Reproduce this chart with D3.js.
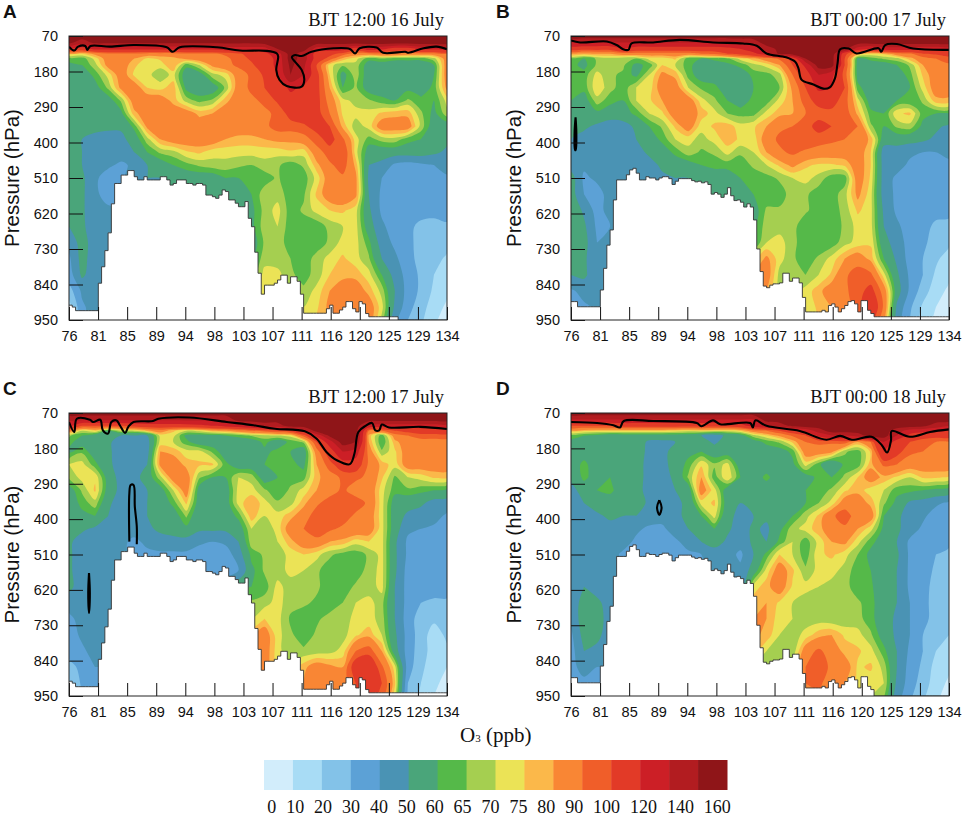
<!DOCTYPE html>
<html>
<head>
<meta charset="utf-8">
<script src="https://cdn.jsdelivr.net/npm/d3@7"></script>
<style>
  body { margin: 0; background: #fff; }
  svg { display: block; }
  .tick text { font-family: "Liberation Sans", Arial, sans-serif; font-size: 14.5px; fill: #111; }
  .serif { font-family: "Liberation Serif", "Times New Roman", serif; fill: #111; }
  .sans { font-family: "Liberation Sans", Arial, sans-serif; fill: #111; }
</style>
</head>
<body>
<script>
// legend
const levelLabels = [0, 10, 20, 30, 40, 50, 60, 65, 70, 75, 80, 90, 100, 120, 140, 160];
const levelColors = ["#d2edfb", "#a8dcf5", "#83c2e8", "#5ca1d6", "#4a93b4", "#4aa57a", "#55b949", "#a5cf50",
  "#ebe356", "#fbb84a", "#f98634", "#f05e29", "#e23a27", "#cc1f26", "#b21c20", "#8f1518"];

// axes
const xLabels = ["76", "81", "85", "89", "94", "98", "103", "107", "111", "116", "120", "125", "129", "134"];
const pTicks = [70, 180, 290, 400, 510, 620, 730, 840, 950];

// grid of the O3 values: one column every 2 degrees, one row per pressure level
const lons = d3.range(76, 135, 2);
const pLevels = [70, 90, 110, 125, 140, 160, 190, 230, 270, 310, 350, 390, 430, 470, 510, 560, 610, 660, 710, 760, 810, 860, 910, 950];

const o3A = [
[170,170,170,170,170,170,170,170,170,170,170,170,170,170,170,170,170,170,170,170,170,170,170,170,170,170,170,170,170,170],
[165,150,165,165,165,165,165,165,165,165,165,165,165,165,165,170,170,170,170,170,170,170,170,170,170,170,170,170,170,170],
[110,110,125,125,125,125,125,125,125,125,125,125,130,130,130,130,160,170,170,130,130,130,110,130,125,110,110,125,125,125],
[76,75,82,88,88,88,85,85,85,88,88,88,92,98,105,115,130,170,150,110,105,95,85,85,88,88,85,85,85,88],
[62,62,72,85,85,80,74,76,78,82,85,85,87,95,102,110,125,170,150,110,95,78,72,62,65,62,62,62,68,85],
[58,60,68,83,85,76,72,72,80,62,70,82,87,92,98,108,125,165,145,100,72,66,68,56,55,55,55,55,60,85],
[55,55,62,72,85,74,72,66,72,55,56,68,72,85,92,102,120,160,140,105,75,57,68,55,55,55,55,56,60,85],
[55,55,57,66,82,85,75,73,78,58,55,55,66,85,92,100,105,125,115,105,80,60,66,56,55,55,58,55,62,82],
[55,55,55,56,66,85,85,85,78,68,63,66,78,85,88,92,102,110,110,105,85,72,68,66,62,60,66,62,60,72],
[55,55,55,55,58,78,85,85,85,85,78,80,85,85,85,88,92,105,108,105,90,74,72,72,76,78,78,66,58,68],
[55,55,55,52,52,62,82,85,85,85,85,85,85,85,85,87,95,95,98,105,100,78,67,72,85,85,85,68,55,55],
[55,50,45,46,47,55,68,80,85,85,85,85,80,78,78,80,82,82,85,95,105,92,72,63,67,68,62,60,55,52],
[55,50,44,45,45,50,60,66,68,74,76,72,72,72,72,72,72,74,72,85,95,100,72,56,55,55,55,55,52,48],
[55,50,44,42,38,42,50,55,60,63,66,68,68,66,65,68,66,62,66,78,88,95,78,50,47,38,36,38,40,45],
[55,52,42,35,38,45,50,50,55,55,55,55,60,60,60,62,66,60,62,72,85,88,82,48,40,35,35,35,35,38],
[55,52,42,36,36,38,40,42,45,48,50,52,52,56,60,68,68,62,64,76,85,88,82,50,38,35,35,35,35,35],
[55,52,42,42,42,42,42,42,45,50,55,55,55,56,58,67,72,62,66,72,75,76,72,52,38,35,35,35,35,35],
[50,52,44,44,44,44,44,44,48,52,55,56,58,58,58,68,70,62,62,61,67,70,72,55,42,35,33,27,25,28],
[42,55,44,44,44,44,44,44,48,52,55,56,58,60,55,66,68,62,62,62,66,72,72,62,45,38,33,26,24,24],
[38,54,44,44,44,44,44,44,48,52,56,58,60,62,58,68,67,65,62,67,72,76,72,66,50,42,34,26,24,18],
[35,52,44,44,44,44,44,44,48,52,56,60,62,66,62,72,72,66,63,67,75,78,78,72,60,46,36,28,20,15],
[25,42,44,44,44,44,44,44,48,52,56,60,66,70,72,72,72,68,66,72,80,85,85,78,68,50,36,28,18,12],
[15,38,45,45,45,45,45,45,48,52,56,60,66,70,72,72,72,70,70,74,82,85,85,85,72,48,34,24,15,8],
[10,36,45,45,45,45,45,45,48,52,56,60,66,70,72,72,72,72,72,76,80,82,82,85,68,42,30,22,12,5]
];

const o3B = [
[170,170,170,170,170,170,170,170,170,170,170,170,170,170,170,170,170,170,170,170,170,170,170,170,170,170,170,170,170,170],
[140,140,140,140,140,140,140,140,140,140,140,140,140,145,150,170,170,170,170,170,170,170,170,170,170,170,170,170,170,170],
[105,105,105,105,120,110,110,110,110,110,110,110,115,120,130,150,165,170,170,170,170,165,130,120,130,130,130,125,125,125],
[80,78,80,80,85,85,85,85,85,85,90,92,100,105,115,130,165,170,175,175,175,105,80,74,76,85,88,100,102,105],
[62,60,66,68,66,65,72,72,76,62,60,62,64,72,78,85,92,105,160,170,170,100,58,62,66,68,78,85,90,95],
[62,58,66,70,66,58,62,75,70,62,56,55,58,62,68,72,80,100,125,170,170,100,56,55,55,60,66,80,85,88],
[60,62,72,66,64,58,70,82,78,63,56,55,55,55,62,63,68,90,110,140,125,95,57,55,55,55,63,76,85,85],
[60,62,74,67,62,70,72,85,85,70,64,62,55,55,60,62,65,82,100,125,120,100,62,55,55,55,60,72,85,85],
[60,56,68,62,60,70,74,80,85,85,72,66,60,56,62,62,72,80,95,105,105,95,72,56,55,60,60,66,78,78],
[55,52,58,56,56,62,70,74,85,85,78,72,65,63,63,72,78,80,90,95,97,97,78,62,60,74,76,62,60,60],
[55,52,48,44,46,52,60,66,76,85,72,76,78,72,74,80,88,90,95,105,100,95,90,66,60,66,68,58,52,48],
[50,46,45,44,45,50,55,62,70,72,68,72,78,74,72,85,92,98,98,95,92,90,88,78,55,55,54,52,48,45],
[50,46,46,44,44,46,52,55,62,68,64,66,72,66,70,80,88,92,88,85,85,85,85,75,45,45,42,40,40,42],
[45,42,45,43,42,44,46,52,54,56,60,62,62,62,66,70,76,82,76,74,74,76,85,75,45,44,38,36,36,38],
[55,38,42,42,45,45,46,48,50,50,52,55,56,60,62,63,66,70,72,68,62,62,85,74,45,38,35,33,33,35],
[55,40,36,44,44,44,44,46,46,48,50,50,50,55,60,61,62,68,66,62,62,68,82,72,45,38,35,35,35,35],
[58,48,36,44,44,44,44,46,46,48,50,50,50,50,56,66,66,67,66,62,62,67,76,72,48,38,35,35,35,35],
[56,52,38,40,40,40,40,44,46,48,50,52,54,56,58,68,68,67,61,62,62,66,72,72,50,42,35,35,27,25],
[55,54,40,40,40,40,40,44,46,48,50,52,54,58,60,70,72,67,61,61,62,68,72,74,54,45,36,33,24,22],
[55,52,42,42,42,42,42,44,46,48,52,56,60,66,72,82,72,66,62,66,72,80,85,78,60,48,36,30,22,15],
[50,52,44,44,44,44,44,44,46,50,56,62,70,76,80,85,68,65,65,70,76,88,95,92,72,52,38,30,18,12],
[38,44,44,44,44,44,44,44,46,50,56,62,70,76,80,80,68,68,72,78,85,88,95,105,85,55,38,25,14,8],
[32,38,42,42,42,42,42,44,46,50,56,62,66,68,70,70,70,70,72,76,80,85,95,115,88,48,32,18,10,6],
[28,36,42,42,42,42,42,44,46,50,56,62,66,68,70,70,72,72,74,75,78,85,95,105,82,45,30,15,8,5]
];

const o3C = [
[170,170,170,170,170,170,170,170,170,170,170,170,170,170,170,170,170,170,170,170,170,170,170,170,170,170,170,170,170,170],
[145,145,145,145,145,145,145,145,145,145,145,145,145,170,170,170,170,170,170,170,170,170,170,170,170,170,170,170,170,170],
[125,100,100,100,100,105,110,110,110,112,115,120,125,130,140,150,150,170,170,170,170,170,170,135,130,130,130,130,130,130],
[85,70,75,60,70,70,78,85,76,70,72,78,80,85,90,95,100,105,130,170,170,170,170,90,90,100,105,110,110,110],
[66,60,55,55,50,50,50,72,72,58,57,58,60,62,66,68,70,72,95,125,165,170,170,78,62,85,90,95,95,95],
[62,56,55,52,45,46,46,72,70,62,55,55,55,55,55,62,55,62,66,100,130,170,160,80,60,78,85,85,85,85],
[58,64,55,52,45,45,46,80,78,72,72,64,55,55,55,58,62,60,55,85,110,140,130,85,66,74,85,85,85,85],
[70,72,62,52,46,45,50,82,85,78,76,76,62,55,55,60,62,62,58,80,95,110,110,88,78,72,85,85,85,85],
[66,72,74,56,46,46,55,68,85,85,66,60,60,70,68,55,60,63,63,78,85,92,92,88,76,64,70,72,76,76],
[56,66,76,56,47,46,50,56,70,85,56,52,55,72,72,66,61,66,72,80,85,92,85,87,72,62,64,62,60,58],
[55,62,68,52,45,46,50,54,62,76,55,52,55,72,80,72,66,68,78,88,95,100,95,88,72,56,54,52,46,45],
[55,58,60,50,45,45,50,54,55,66,52,52,54,62,78,70,72,78,85,95,95,95,88,85,72,55,48,45,44,38],
[55,52,48,48,44,44,48,52,55,58,52,52,52,55,70,66,72,85,90,98,92,88,88,85,72,55,42,40,38,35],
[52,45,44,44,42,38,42,46,46,46,42,40,42,50,68,66,70,78,85,86,80,78,72,75,72,52,38,35,35,35],
[52,44,44,40,42,38,38,38,38,38,35,35,35,45,62,66,67,72,75,72,66,63,62,66,72,52,38,35,35,35],
[52,44,44,42,42,40,38,36,34,32,30,30,30,40,58,66,67,72,70,66,62,62,62,67,72,52,36,35,35,35],
[52,46,50,42,42,42,42,40,40,42,45,50,55,58,60,62,72,67,67,66,62,62,66,67,72,50,36,35,35,35],
[46,46,46,44,44,44,44,44,46,50,55,58,62,66,66,68,72,67,66,64,62,65,70,72,67,50,36,30,28,28],
[36,46,44,44,44,44,44,44,46,50,58,62,66,70,70,75,72,64,62,64,67,67,72,72,68,50,35,25,22,25],
[35,42,44,44,44,44,44,44,46,50,60,66,72,76,78,85,72,66,62,66,67,68,74,78,70,52,36,25,15,22],
[35,38,44,44,44,44,44,44,46,50,60,66,72,78,80,85,72,66,66,67,68,72,90,95,80,55,35,25,15,18],
[25,34,40,40,40,40,40,44,46,50,60,66,72,80,85,85,72,72,78,85,82,80,110,115,92,72,35,22,15,10],
[18,32,38,38,38,38,38,44,46,50,60,66,72,80,85,85,76,76,80,85,85,85,100,120,100,76,30,20,12,7],
[14,30,38,38,38,38,38,44,46,50,60,66,72,80,85,85,78,78,80,82,84,85,95,110,95,72,28,18,10,5]
];

const o3D = [
[170,170,170,170,170,170,170,170,170,170,170,170,170,170,170,170,170,170,170,170,170,170,170,170,170,170,170,170,170,170],
[140,140,140,140,140,140,140,140,140,140,140,140,140,140,140,170,170,170,170,170,170,170,170,170,170,170,170,170,170,170],
[100,100,100,100,105,105,105,105,105,105,105,105,105,110,130,140,150,165,170,170,170,170,170,170,170,170,170,165,150,140],
[77,76,75,75,75,75,75,75,74,72,74,72,72,75,85,90,100,110,125,150,170,170,170,170,170,150,130,125,125,120],
[62,60,58,55,56,56,56,56,56,56,50,46,52,56,68,74,82,92,100,125,140,140,150,170,170,140,115,110,105,105],
[58,56,52,55,55,56,48,48,50,55,55,48,55,55,56,62,66,76,90,92,92,95,80,90,140,110,100,92,90,90],
[55,56,55,55,55,58,46,46,55,58,60,55,55,55,55,55,56,62,85,85,82,66,62,76,120,105,92,90,88,88],
[55,62,55,55,55,55,46,46,55,62,74,66,72,55,55,55,55,58,72,62,50,62,62,78,92,90,85,85,85,85],
[52,62,56,60,55,55,46,46,52,66,80,62,75,60,55,62,55,55,56,62,60,66,75,85,78,74,70,76,76,74],
[46,55,60,62,55,54,46,46,50,55,85,72,55,56,55,55,55,55,60,62,66,74,78,72,70,62,62,60,58,56],
[44,50,55,55,55,55,48,46,48,52,72,76,55,50,55,55,55,55,60,65,72,85,85,78,66,58,48,46,42,38],
[44,46,48,52,50,50,46,44,48,52,60,72,52,48,50,52,55,60,68,76,88,95,85,85,60,52,46,42,35,35],
[44,44,44,46,46,42,38,38,45,50,56,60,52,45,52,48,58,68,72,78,85,88,80,72,58,52,45,38,35,35],
[44,44,44,44,44,38,36,38,38,44,50,55,48,44,52,50,62,70,62,72,80,82,72,62,56,50,38,35,35,33],
[44,44,44,44,38,36,38,36,35,38,40,44,44,38,50,62,75,70,62,74,76,72,65,58,55,52,38,35,30,27],
[44,44,44,44,44,40,38,36,35,38,40,40,40,42,55,72,85,76,66,72,72,68,62,60,55,50,38,35,28,25],
[44,50,46,44,44,44,42,42,42,42,42,44,44,44,72,78,85,74,72,70,68,67,62,61,55,50,38,34,26,25],
[44,54,52,46,46,46,46,46,46,50,55,60,66,70,78,80,74,70,67,67,66,67,66,62,55,50,40,34,25,24],
[42,56,54,46,46,46,46,46,46,50,60,66,72,76,80,80,72,70,67,67,66,66,67,62,55,48,40,34,25,22],
[38,54,52,46,46,46,46,46,46,50,60,66,72,78,82,78,70,67,72,78,80,74,72,66,56,48,40,30,24,20],
[36,50,48,46,46,46,46,46,46,50,60,66,70,74,78,70,66,66,85,92,85,78,76,72,62,50,38,30,20,16],
[35,46,40,40,40,40,40,44,46,50,60,66,66,66,66,66,66,72,90,95,88,85,74,76,68,50,36,28,16,12],
[28,36,38,38,38,38,38,44,46,50,60,66,66,66,66,66,70,75,90,92,85,80,74,72,70,48,35,25,15,8],
[24,34,38,38,38,38,38,44,46,50,60,66,66,66,66,66,70,76,85,88,82,78,72,70,66,45,32,22,12,6]
];

// surface pressure along the section, one value every 0.5 degree
const terrainLons = d3.range(76, 134.5, 0.5);
const terrainAC = [904,910,921,921,921,921,921,921,921,836,785,735,680,590,527,527,501,501,487,487,506,516,516,506,516,516,516,516,506,506,516,532,527,516,516,516,527,527,532,527,527,532,563,563,568,573,563,547,552,578,578,588,599,599,583,635,661,740,805,870,842,842,842,836,826,811,811,836,816,816,830,870,929,929,929,929,929,929,929,915,904,929,929,919,910,893,893,915,925,893,900,930,940,940,940,940,940,940,940,940,940,940,940,940,940,940,940,940,940,940,940,940,940,940,940,940,940];
const terrainBD = [893,893,909,909,909,909,909,909,909,857,790,718,671,578,516,516,516,500,485,480,495,516,516,506,510,510,516,510,506,506,512,530,520,512,512,512,512,518,522,520,525,522,530,560,555,560,570,560,540,565,580,578,585,600,590,600,640,730,800,845,850,842,838,838,835,805,805,830,820,820,835,880,925,925,925,925,925,920,925,905,900,910,925,915,905,893,890,900,925,890,890,920,930,940,940,940,940,940,940,940,940,940,940,940,940,940,940,940,940,940,940,940,940,940,940,940,940];

// thick black contour near the top of each panel, [lon, hPa]
const lineA = [[76,103],[76.8,115],[77.4,103],[78.5,101],[78.8,113],[79.3,101],[82.3,103],[85.9,98],[91,105],[91.9,119],[93,105],[98.7,105],[102.2,115],[106.3,116],[107.9,124],[108.1,134],[107.8,175],[108.3,206],[109.4,225],[111.7,227],[112.1,206],[111.7,175],[110.7,150],[110.2,136],[110.7,129],[111.7,132],[113.2,119],[116.6,108],[119.1,110],[119.9,124],[120.6,108],[123.2,106],[124.2,122],[127.6,119],[128.1,122],[130.4,108],[132.4,103],[134,111]];
const lineB = [[76,84],[77.4,90],[81.5,87],[83,98],[84,111],[84.8,113],[85.3,93],[88.6,90],[92.7,82],[97.8,90],[102.4,93],[104.5,100],[106,124],[109,136],[110.4,150],[110.9,170],[111.4,206],[113.2,220],[114.7,233],[115.7,229],[116.5,201],[116.9,155],[117.3,111],[118.6,109],[119.8,124],[123.2,108],[123.6,119],[124.2,98],[126,95],[128.5,109],[134,113]];
const lineC = [[76,98],[76.8,129],[77.2,88],[79.2,91],[79.7,98],[80.8,91],[81.2,124],[82,134],[82.5,98],[83.3,93],[83.8,108],[84.6,132],[85.1,113],[85.9,98],[88.9,95],[89.7,88],[94.5,84],[100.2,98],[104.3,108],[107.6,119],[112.2,127],[114,150],[115.5,191],[117.1,217],[119.1,229],[119.8,196],[120.4,129],[121.5,110],[122.5,101],[123,124],[123.6,124],[124,106],[125.1,115],[129.9,113],[134,120]];
const lineD = [[76,98],[80,101],[82.5,108],[83.5,115],[84.1,95],[88.6,95],[95.3,101],[96,111],[97.8,93],[98.9,105],[103.5,101],[103.9,115],[104.3,93],[106,110],[111.1,126],[115.2,153],[117.3,141],[119.1,153],[122.1,144],[123.7,170],[124.5,193],[125.1,155],[125.2,126],[128,144],[131.1,129],[134,121]];

// small closed and open bits of the same contour
const blobsA = [];
const blobsB = [[[76.7,322],[76.82,370],[76.72,423],[76.62,423],[76.55,370],[76.7,322]]];
const blobsC = [
  [[79.07,568],[79.2,630],[79.07,692],[78.95,630],[79.07,568]],
  [[85.26,470],[85.26,320],[85.46,294],[85.9,294],[86.1,361],[86.4,423],[86.4,478]]
];
const blobsD = [[[89.55,341],[89.9,364],[89.55,387],[89.2,364],[89.55,341]]];

const panels = [
  {letter: "A", title: "BJT 12:00 16 July", left: 69, top: 36, h: 284, values: o3A, terrain: terrainAC, flatEnd: 126.3, topLine: lineA, blobs: blobsA},
  {letter: "B", title: "BJT 00:00 17 July", left: 571, top: 36, h: 284, values: o3B, terrain: terrainBD, flatEnd: 134, topLine: lineB, blobs: blobsB},
  {letter: "C", title: "BJT 12:00 17 July", left: 69, top: 413, h: 283, values: o3C, terrain: terrainAC, flatEnd: 134, topLine: lineC, blobs: blobsC},
  {letter: "D", title: "BJT 00:00 18 July", left: 571, top: 413, h: 283, values: o3D, terrain: terrainBD, flatEnd: 122.4, topLine: lineD, blobs: blobsD}
];

const plotW = 378;
const svg = d3.select("body").append("svg").attr("width", 962).attr("height", 817);

panels.forEach(function(p, idx) {
  const g = svg.append("g").attr("transform", "translate(" + p.left + "," + p.top + ")");

  // Scales
  const xScale = d3.scaleLinear().domain([76, 134]).range([0, plotW]);
  const yScale = d3.scaleLinear().domain([70, 950]).range([0, p.h]);
  const colScale = d3.scaleLinear().domain([0, lons.length - 1]).range([76, 134]).clamp(true);
  const rowScale = d3.scaleLinear().domain(d3.range(pLevels.length)).range(pLevels).clamp(true);

  g.append("clipPath").attr("id", "clip" + idx)
    .append("rect").attr("width", plotW).attr("height", p.h);

  const plot = g.append("g").attr("clip-path", "url(#clip" + idx + ")");

  // Filled contours, painted from low to high
  plot.append("rect").attr("width", plotW).attr("height", p.h).attr("fill", levelColors[0]);

  const contours = d3.contours()
    .size([lons.length, pLevels.length])
    .smooth(true)
    .thresholds(levelLabels.slice(1))(p.values.flat());

  // rounded rings, the raw marching squares polygons look too angular on this grid
  const ringLine = d3.line().curve(d3.curveCatmullRomClosed.alpha(0.5))
    .x(function(d) { return xScale(colScale(d[0] - 0.5)); })
    .y(function(d) { return yScale(rowScale(d[1] - 0.5)); });

  plot.selectAll("path.band")
    .data(contours)
    .enter().append("path")
    .attr("class", "band")
    .attr("d", function(d) {
      return d.coordinates.map(function(poly) {
        return poly.map(function(ring) { return ringLine(ring); }).join("");
      }).join("");
    })
    .attr("fill", function(d, i) { return levelColors[i + 1]; });

  // Terrain
  const ground = p.terrain.map(function(v, i) {
    return {lon: terrainLons[i], p: terrainLons[i] > p.flatEnd ? 950 : v};
  });

  plot.append("path").datum(ground)
    .attr("fill", "#fff")
    .attr("d", d3.area().curve(d3.curveStepAfter)
      .x(function(d) { return xScale(d.lon); })
      .y0(p.h)
      .y1(function(d) { return yScale(d.p); }));

  plot.append("path").datum(ground)
    .attr("fill", "none")
    .attr("stroke", "#333")
    .attr("stroke-width", 0.9)
    .attr("d", d3.line().curve(d3.curveStepAfter)
      .x(function(d) { return xScale(d.lon); })
      .y(function(d) { return yScale(d.p); }));

  // Black contour
  const blackLine = d3.line().curve(d3.curveCatmullRom.alpha(0.5))
    .x(function(d) { return xScale(d[0]); })
    .y(function(d) { return yScale(d[1]); });

  plot.append("path").datum(p.topLine)
    .attr("fill", "none").attr("stroke", "#000").attr("stroke-width", 2.1)
    .attr("d", blackLine);

  plot.selectAll("path.blob")
    .data(p.blobs)
    .enter().append("path")
    .attr("class", "blob")
    .attr("fill", "none").attr("stroke", "#000").attr("stroke-width", 2.1)
    .attr("d", blackLine);

  // Axes
  const xAxis = d3.axisBottom(d3.scalePoint().domain(xLabels).range([0, plotW]))
    .tickSizeInner(-13).tickSizeOuter(0).tickPadding(11);
  const yAxis = d3.axisLeft(yScale)
    .tickValues(pTicks).tickFormat(d3.format("d"))
    .tickSizeInner(-14).tickSizeOuter(0).tickPadding(11);

  const gx = g.append("g").attr("transform", "translate(0," + p.h + ")").call(xAxis);
  const gy = g.append("g").call(yAxis);
  gx.select(".domain").remove();
  gy.select(".domain").remove();
  g.selectAll(".tick line").attr("stroke", "#111").attr("stroke-width", 1);

  // Frame
  g.append("rect").attr("width", plotW).attr("height", p.h)
    .attr("fill", "none").attr("stroke", "#222").attr("stroke-width", 1);

  // Labels
  g.append("text").attr("class", "serif")
    .attr("x", plotW - 3).attr("y", -10)
    .attr("text-anchor", "end").attr("font-size", 18.5)
    .text(p.title);

  g.append("text").attr("class", "sans")
    .attr("x", idx % 2 ? -75 : -66).attr("y", -18.5)
    .attr("font-size", 19).attr("font-weight", "bold")
    .text(p.letter);

  g.append("text").attr("class", "sans")
    .attr("transform", "translate(-50," + (p.h / 2) + ") rotate(-90)")
    .attr("text-anchor", "middle").attr("font-size", 20.5)
    .text("Pressure (hPa)");
});

// x title
const o3Title = svg.append("text").attr("class", "serif")
  .attr("x", 460).attr("y", 741.5).attr("font-size", 21);
o3Title.append("tspan").text("O");
o3Title.append("tspan").attr("font-size", 11).text("3");
o3Title.append("tspan").text(" (ppb)");

// Colour bar
const barScale = d3.scaleBand().domain(levelLabels).range([264, 727]);
svg.selectAll("rect.swatch")
  .data(levelLabels)
  .enter().append("rect")
  .attr("class", "swatch")
  .attr("x", function(d) { return barScale(d); })
  .attr("y", 760)
  .attr("width", barScale.bandwidth() + 0.5)
  .attr("height", 30)
  .attr("fill", function(d, i) { return levelColors[i]; });

svg.append("text").attr("class", "serif")
  .attr("x", 267.3).attr("y", 812.8).attr("font-size", 18)
  .attr("word-spacing", 5.4)
  .text(levelLabels.join(" "));
</script>
</body>
</html>
